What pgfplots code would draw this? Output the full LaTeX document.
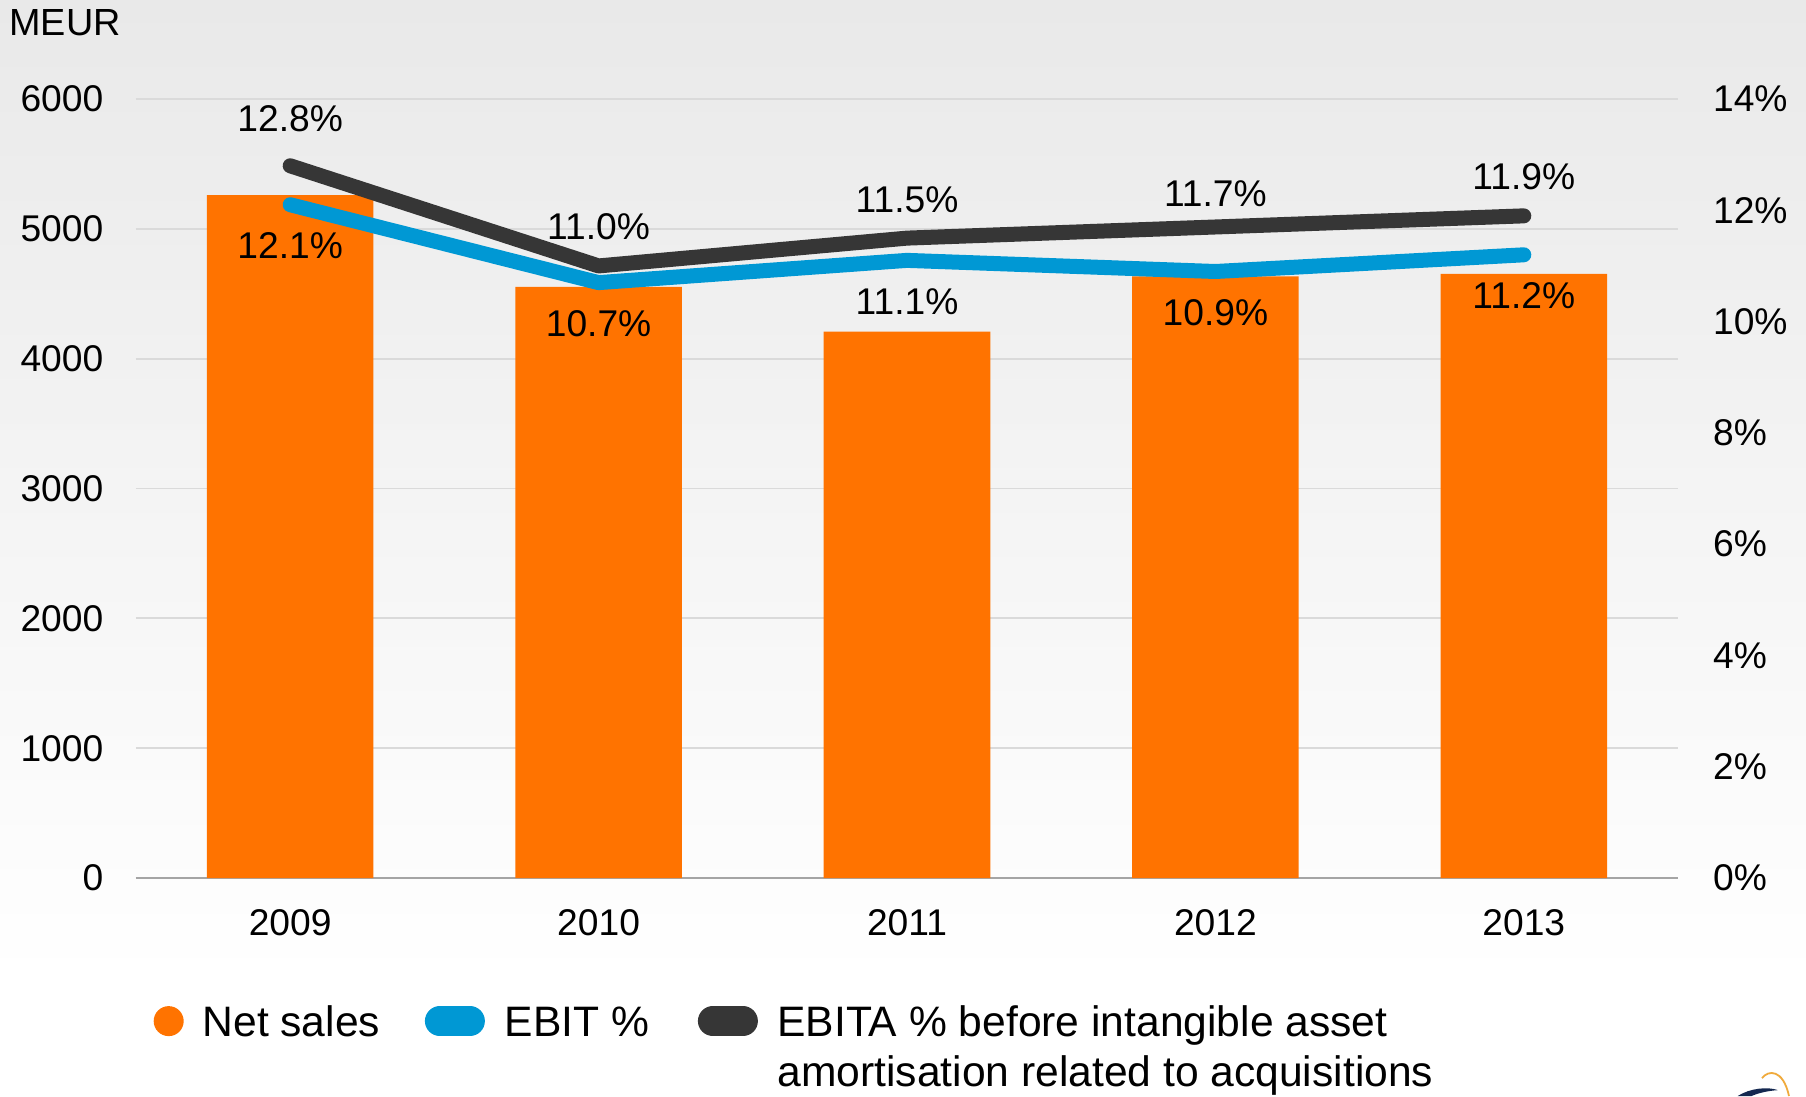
\documentclass[border=0pt]{standalone}
\usepackage{fontspec}
\setmainfont{Liberation Sans}
\usepackage{pgfplots}
\pgfplotsset{compat=1.18}
\pgfkeys{/pgf/number format/assume math mode=true}

\definecolor{salesorange}{RGB}{255,115,0}
\definecolor{ebitblue}{RGB}{0,152,212}
\definecolor{ebitadark}{RGB}{54,54,54}
\definecolor{gridgray}{RGB}{218,218,218}
\definecolor{basegray}{RGB}{165,165,165}
\definecolor{bgtop}{RGB}{233,233,233}
\definecolor{logonavy}{RGB}{20,40,80}
\definecolor{logoorange}{RGB}{240,170,60}

\newcommand{\lblfont}{\fontsize{12.4}{14.5}\selectfont}
\newcommand{\legfont}{\fontsize{14.2}{16.9}\selectfont}

\pgfplotstableread{
x sales
0 5260
1 4553
2 4209
3 4635
4 4654
}\sales

\pgfplotstableread{
x ebit
0 12.1
1 10.7
2 11.1
3 10.9
4 11.2
}\ebit

% off = distance of the label above the line, in pt
\pgfplotstableread{
x ebita off
0 12.8 15.6
1 11.0 13.1
2 11.5 12.8
3 11.7 11.2
4 11.9 13.0
}\ebita

\begin{document}
\begin{tikzpicture}
% page background
\shade[top color=bgtop, bottom color=white] (-45.33pt,-34pt) rectangle (556.67pt,292.67pt);
\fill[white] (-45.33pt,-72.67pt) rectangle (556.67pt,-34pt);
\path[use as bounding box] (-45.33pt,-72.67pt) rectangle (556.67pt,292.67pt);

\begin{axis}[
  at={(0pt,0pt)}, anchor=south west,
  scale only axis, width=514pt, height=259.67pt,
  xmin=-0.5, xmax=4.5, ymin=0, ymax=6000,
  ybar, bar width=55.5pt,
  xtick={0,...,4}, xticklabels={2009,2010,2011,2012,2013},
  ytick={0,1000,...,6000},
  ymajorgrids, grid style={draw=gridgray, line width=0.6pt},
  axis line style={draw=none},
  major tick length=0pt,
  tick label style={font=\lblfont},
  yticklabel style={anchor=east, inner sep=0pt, xshift=-10.7pt,
    /pgf/number format/1000 sep={}},
  xticklabel style={anchor=north, inner sep=0pt, yshift=-10.2pt},
  scaled y ticks=false,
  clip=false,
]
\draw[basegray, line width=0.6pt] (axis cs:-0.5,0) -- (axis cs:4.5,0);
\addplot[fill=salesorange, draw=none] table[x=x, y=sales] {\sales};
\end{axis}

\begin{axis}[
  at={(0pt,0pt)}, anchor=south west,
  scale only axis, width=514pt, height=259.67pt,
  xmin=-0.5, xmax=4.5, ymin=0, ymax=14,
  hide x axis,
  axis line style={draw=none},
  yticklabel pos=right,
  ytick={0,2,...,14},
  yticklabel={\pgfmathprintnumber{\tick}\%},
  major tick length=0pt,
  tick label style={font=\lblfont},
  yticklabel style={anchor=west, inner sep=0pt, xshift=11.5pt},
  clip=false,
]
\addplot[ebitblue, line width=5pt, line cap=round, line join=round,
  nodes near coords={\pgfmathprintnumber[fixed,fixed zerofill,precision=1]{\pgfplotspointmeta}\%},
  nodes near coords style={anchor=center, yshift=-13.7pt, text=black, font=\lblfont, inner sep=0pt}]
  table[x=x, y=ebit] {\ebit};
\addplot[ebitadark, line width=5pt, line cap=round, line join=round,
  visualization depends on={\thisrow{off} \as \off},
  nodes near coords={\pgfmathprintnumber[fixed,fixed zerofill,precision=1]{\pgfplotspointmeta}\%},
  nodes near coords style={anchor=center, yshift=\off*1pt, text=black, font=\lblfont, inner sep=0pt}]
  table[x=x, y=ebita] {\ebita};
\end{axis}

% unit label
\node[anchor=west, inner sep=0pt, font=\fontsize{12.6}{15}\selectfont] at (-42.4pt,285pt) {MEUR};

% legend
\fill[salesorange] (10.9pt,-47.7pt) circle (5pt);
\node[anchor=base west, inner sep=0pt, font=\legfont] at (22.0pt,-52.7pt) {Net sales};
\draw[ebitblue, line width=10pt, line cap=round] (101.3pt,-47.7pt) -- (111.3pt,-47.7pt);
\node[anchor=base west, inner sep=0pt, font=\legfont] at (122.8pt,-52.7pt) {EBIT \%};
\draw[ebitadark, line width=10pt, line cap=round] (192.3pt,-47.7pt) -- (202.3pt,-47.7pt);
\node[anchor=base west, inner sep=0pt, font=\legfont] at (213.6pt,-52.7pt) {EBITA \% before intangible asset};
\node[anchor=base west, inner sep=0pt, font=\legfont] at (213.6pt,-69.6pt) {amortisation related to acquisitions};

% corner of the logo
\draw[logoorange, line width=0.6pt] (542.0pt,-66.7pt) .. controls (544pt,-64pt) and (549pt,-63.5pt) .. (551.0pt,-72.67pt);
\fill[logonavy] (533.9pt,-72.67pt) .. controls (538pt,-70pt) and (544pt,-69.5pt) .. (547.3pt,-70.7pt)
  .. controls (543pt,-71pt) and (540pt,-72pt) .. (538.5pt,-72.67pt) -- cycle;
\end{tikzpicture}
\end{document}
